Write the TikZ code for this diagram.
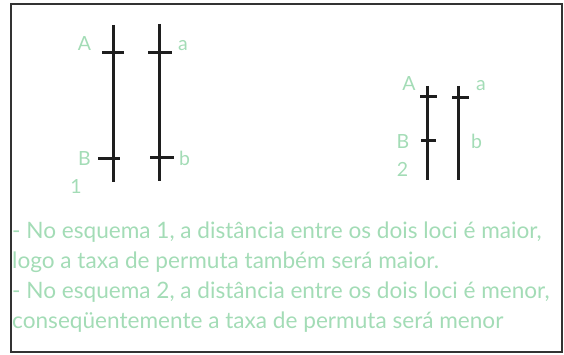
\documentclass[tikz,border=0pt]{standalone}
\usepackage{fontspec}
\setmainfont{Lato}
\usepackage{tikz}
\definecolor{verdeclaro}{HTML}{A3DCB6}
\definecolor{tinta}{HTML}{1E1E1E}
\definecolor{moldura}{HTML}{333333}

\begin{document}
\begin{tikzpicture}[x=1pt,y=-1pt,
  barra/.style={line width=3pt,tinta},
  rotulo/.style={anchor=base,text=verdeclaro,inner sep=0pt,font=\fontsize{19.5}{19.5}\selectfont},
  nota/.style={anchor=base west,text=verdeclaro,inner sep=0pt,font=\fontsize{22.6}{22.6}\selectfont}]
\useasboundingbox (0,0) rectangle (564,355);
\draw[line width=2.2pt,moldura] (11,4) rectangle (562,352);
% cromossomos
\foreach \n/\x/\yt/\yb in {c1/113/25/182, c2/159/24/181, c3/427/86/180, c4/458/86/180}{
  \coordinate (\n t) at (\x,\yt);
  \coordinate (\n b) at (\x,\yb);
  \draw[barra] (\n t) -- (\n b);
}
% loci
\foreach \n/\xa/\xb/\y in {m1/102/124/53, m2/98/120/159, m3/148/172/53, m4/150/174/158,
  m5/420/437/97, m6/421/436/141, m7/452/469/98}{
  \coordinate (\n e) at (\xa,\y);
  \coordinate (\n d) at (\xb,\y);
  \draw[barra] (\n e) -- (\n d);
}
% esquema 1
\node[rotulo] (A1) at (84.5,51) {A};
\node[rotulo] (a1) at (183,51) {a};
\node[rotulo] (B1) at (84.5,166) {B};
\node[rotulo] (b1) at (184.5,166) {b};
\node[rotulo] (n1) at (76,194) {1};
% esquema 2
\node[rotulo] (A2) at (409,91) {A};
\node[rotulo] (a2) at (481,91) {a};
\node[rotulo] (B2) at (403,149) {B};
\node[rotulo] (b2) at (476.5,149) {b};
\node[rotulo] (n2) at (402.5,177) {2};
% texto
\node[nota] (t1) at (12,238) {- No esquema 1, a distância entre os dois loci é maior,};
\node[nota] (t2) at (12,268) {logo a taxa de permuta também será maior.};
\node[nota] (t3) at (12,298) {- No esquema 2, a distância entre os dois loci é menor,};
\node[nota] (t4) at (12,328) {conseqüentemente a taxa de permuta será menor};
\end{tikzpicture}
\end{document}
